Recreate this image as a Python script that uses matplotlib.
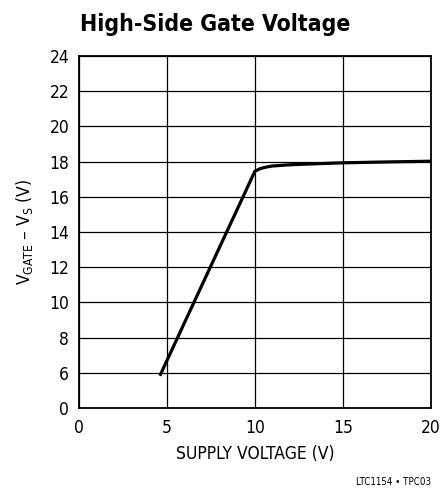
import numpy as np
import matplotlib.pyplot as plt

plt.rcParams['font.family'] = ['DejaVu Sans']
plt.rcParams['font.stretch'] = 'condensed'

# data
supply_v = [4.6, 6.0, 8.0, 10.0, 10.3, 10.7, 11.0, 12.0, 13.0, 15.0, 17.5, 20.0]
gate_v = [5.83, 8.85, 13.15, 17.45, 17.6, 17.7, 17.75, 17.82, 17.86, 17.93, 17.98, 18.02]

# zero-suppressed y axis: bottom edge is labelled 0
y_ticks = [4, 6, 8, 10, 12, 14, 16, 18, 20, 22, 24]
y_labels = ['0', '6', '8', '10', '12', '14', '16', '18', '20', '22', '24']
x_ticks = [0, 5, 10, 15, 20]

fig = plt.figure(figsize=(4.41, 4.91), dpi=100)
ax = fig.add_axes([0.179, 0.169, 0.798, 0.717])

ax.plot(supply_v, gate_v, color='black', lw=2.3, solid_capstyle='butt')

ax.set_xlim(0, 20)
ax.set_ylim(4, 24)
ax.set_xticks(x_ticks)
ax.set_yticks(y_ticks)
ax.set_yticklabels(y_labels)
ax.tick_params(axis='y', length=0, labelsize=12.5, pad=7)
ax.tick_params(axis='x', length=0, labelsize=12.5, pad=8)
ax.grid(True, color='black', lw=0.9)
for s in ax.spines.values():
    s.set_linewidth(1.3)

ax.set_xlabel('SUPPLY VOLTAGE (V)', fontsize=12.5, labelpad=6)
ax.set_ylabel(r'V$_{\mathregular{GATE}}$ – V$_{\mathregular{S}}$ (V)', fontsize=12.5, labelpad=10)

fig.text(0.181, 0.95, 'High-Side Gate Voltage', fontsize=16.5, fontweight='bold',
         ha='left', va='center')
fig.text(0.977, 0.018, 'LTC1154 • TPC03', fontsize=7, ha='right', va='center')

fig.savefig('out.png', dpi=100)
